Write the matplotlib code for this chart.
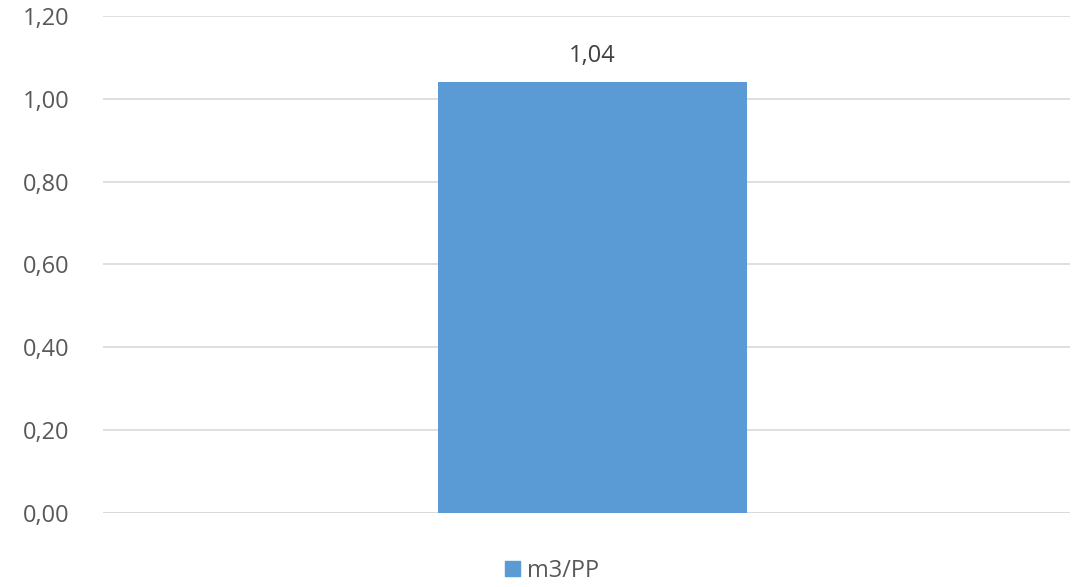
import matplotlib
matplotlib.use("Agg")
import matplotlib.pyplot as plt
from matplotlib.patches import Patch

categories = [""]
series_name = "m3/PP"
values = [1.04]
yticks = [0.0, 0.2, 0.4, 0.6, 0.8, 1.0, 1.2]
ytick_labels = ["0,00", "0,20", "0,40", "0,60", "0,80", "1,00", "1,20"]

plt.rcParams['font.family'] = ['Open Sans', 'DejaVu Sans']

fig = plt.figure(figsize=(10.72, 5.87), dpi=100)
ax = fig.add_axes([0.096, 0.126, 0.902, 0.847])

bar_color = "#5B9BD5"
bars = ax.bar(range(len(categories)), values, width=0.32, color=bar_color, zorder=3)

ax.set_xlim(-0.5062, 0.4938)
ax.set_ylim(0, 1.2)
ax.set_yticks(yticks)
ax.set_yticklabels(ytick_labels, fontsize=17, color="#595959")
ax.set_xticks([])
ax.tick_params(axis='y', length=0, pad=24)
for s in ax.spines.values():
    s.set_visible(False)
ax.grid(axis='y', color="#D9D9D9", linewidth=1.2, zorder=0)
ax.axhline(0, color="#D9D9D9", linewidth=1.2, zorder=1)

for rect, v in zip(bars, values):
    ax.annotate(f"{v:.2f}".replace(".", ","), (rect.get_x() + rect.get_width() / 2, v),
                xytext=(0, 10), textcoords="offset points", ha="center", va="bottom",
                fontsize=17, color="#404040")

fig.legend(handles=[Patch(color=bar_color, label=series_name)], loc="center",
           bbox_to_anchor=(0.515, 0.027), frameon=False, fontsize=17,
           handlelength=0.6, handleheight=0.6, handletextpad=0.3,
           labelcolor="#595959")

fig.savefig("out.png", dpi=100)
